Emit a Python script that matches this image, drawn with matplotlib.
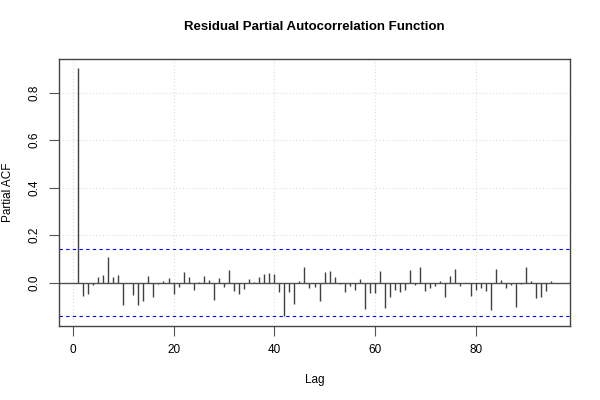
import matplotlib
matplotlib.use('Agg')
import matplotlib.pyplot as plt
import numpy as np

plt.rcParams['font.family'] = ['Liberation Sans', 'DejaVu Sans']

# partial autocorrelation of residuals, lags 1..95
lags = np.arange(1, 96)
pacf = [
    0.905, -0.056, -0.046, -0.010, 0.024, 0.034, 0.107, 0.022, 0.032, -0.093,
    -0.003, -0.050, -0.093, -0.076, 0.027, -0.062, -0.007, 0.007, 0.018, -0.049,
    -0.020, 0.044, 0.025, -0.031, 0.003, 0.027, 0.013, -0.073, 0.018, -0.020,
    0.052, -0.035, -0.049, -0.027, 0.015, 0.004, 0.022, 0.035, 0.039, 0.036,
    -0.040, -0.142, -0.039, -0.088, 0.008, 0.065, -0.021, -0.017, -0.077, 0.046,
    0.048, 0.025, -0.005, -0.039, -0.013, -0.029, 0.014, -0.111, -0.042, -0.043,
    0.049, -0.107, -0.059, -0.032, -0.039, -0.029, 0.055, -0.010, 0.065, -0.034,
    -0.024, -0.014, 0.008, -0.060, 0.027, 0.058, -0.014, -0.002, -0.055, -0.032,
    -0.021, -0.036, -0.115, 0.059, 0.013, -0.021, -0.010, -0.104, -0.005, 0.065,
    0.008, -0.066, -0.060, -0.035, 0.008,
]
conf = 0.14
x_ticks = [0, 20, 40, 60, 80]
y_ticks = [0.0, 0.2, 0.4, 0.6, 0.8]

fig = plt.figure(figsize=(6, 4), dpi=100)
ax = fig.add_axes([59 / 600, 1 - 326 / 400, (570 - 59) / 600, (326 - 59) / 400])

for t in x_ticks:
    ax.axvline(t, color='#dddddd', lw=0.8, ls=(0, (1, 2)), zorder=0)
for t in y_ticks:
    ax.axhline(t, color='#dddddd', lw=0.8, ls=(0, (1, 2)), zorder=0)

ax.vlines(lags, 0, pacf, color='#404040', lw=1)
ax.axhline(0, color='#505050', lw=1)
ax.axhline(conf, color='blue', lw=0.8, ls=(0, (3, 3)))
ax.axhline(-conf, color='blue', lw=0.8, ls=(0, (3, 3)))

ax.set_xlim(-2.76, 98.76)
ax.set_ylim(-0.182, 0.941)
ax.set_xticks(x_ticks)
ax.set_yticks(y_ticks)
ax.set_yticklabels(['0.0', '0.2', '0.4', '0.6', '0.8'], rotation=90, va='center')
ax.tick_params(direction='out', length=7, width=0.8, color='#555555',
               labelsize=8.5, pad=6)
for s in ax.spines.values():
    s.set_color('#444444')
    s.set_linewidth(1)

ax.set_xlabel('Lag', fontsize=8.5, labelpad=13)
ax.set_ylabel('Partial ACF', fontsize=8.5, labelpad=11)
ax.set_title('Residual Partial Autocorrelation Function', fontsize=9.5,
             fontweight='bold', pad=21)

fig.savefig('out.png', dpi=100)
